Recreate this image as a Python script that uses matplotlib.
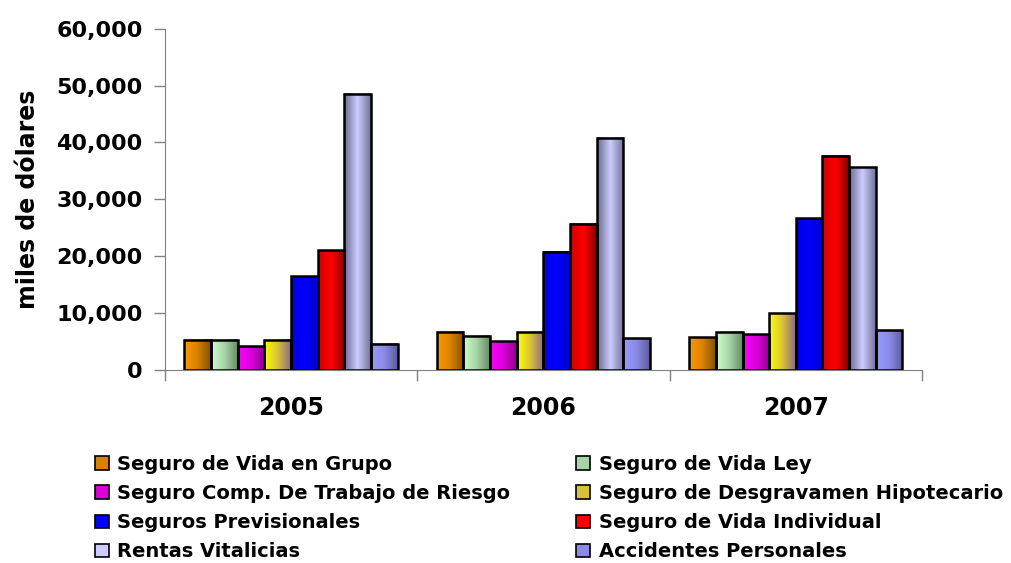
import numpy as np
import matplotlib
matplotlib.use('Agg')
import matplotlib.pyplot as plt
from matplotlib.colors import to_rgb
from matplotlib.patches import Patch
from matplotlib.ticker import FuncFormatter, FixedLocator

# datos (miles de dólares)
years = ['2005', '2006', '2007']
series = ['Seguro de Vida en Grupo', 'Seguro de Vida Ley',
          'Seguro Comp. De Trabajo de Riesgo', 'Seguro de Desgravamen Hipotecario',
          'Seguros Previsionales', 'Seguro de Vida Individual',
          'Rentas Vitalicias', 'Accidentes Personales']
vida_grupo = [5300, 6700, 5700]
vida_ley = [5300, 6000, 6700]
comp_trabajo = [4200, 5000, 6300]
desgravamen = [5300, 6700, 10000]
previsionales = [16500, 20800, 26700]
vida_individual = [21100, 25700, 37700]
rentas = [48600, 40800, 35600]
accidentes = [4600, 5600, 7000]
values = [vida_grupo, vida_ley, comp_trabajo, desgravamen,
          previsionales, vida_individual, rentas, accidentes]

# degradados izquierda / centro / derecha
grads = [('#FF9900', '#D98200', '#7F5200'),
         ('#CCFFCC', '#A6D4A6', '#648C64'),
         ('#FF00FF', '#D900D9', '#8C008C'),
         ('#FFFF00', '#D9C23A', '#8A6A8A'),
         ('#0000E6', '#0000FF', '#0000C8'),
         ('#D00000', '#FF0000', '#800000'),
         ('#6A6A90', '#CCCCFF', '#72729A'),
         ('#9999FF', '#8A8AE6', '#5C5C99')]


def ramp(c):
    l, m, r = [np.array(to_rgb(x)) for x in c]
    t = np.linspace(0, 1, 64)[:, None]
    left = l + (m - l) * (t * 2)
    right = m + (r - m) * (t * 2 - 1)
    return np.where(t < 0.5, left, right)[None, :, :]


plt.rcParams['font.family'] = 'DejaVu Sans'
plt.rcParams['font.weight'] = 'bold'

fig = plt.figure(figsize=(10.11, 5.63), dpi=100)
ax = fig.add_axes([0.163, 0.343, 0.749, 0.606])

n = len(series)
w = 0.845 / n
x = np.arange(len(years))
for i, (vals, g) in enumerate(zip(values, grads)):
    bars = ax.bar(x + (i - (n - 1) / 2) * w, vals, w, facecolor='none',
                  edgecolor='black', lw=1.8, zorder=3)
    for b in bars:
        bx, by, bw, bh = b.get_x(), b.get_y(), b.get_width(), b.get_height()
        ax.imshow(ramp(g), extent=[bx, bx + bw, by, by + bh], aspect='auto',
                  interpolation='bilinear', zorder=2)

ax.set_xlim(-0.5, 2.5)
ax.set_ylim(0, 60000)
ax.set_aspect('auto')
ax.yaxis.set_major_locator(FixedLocator(np.arange(0, 60001, 10000)))
ax.yaxis.set_major_formatter(FuncFormatter(lambda v, p: '{:,.0f}'.format(v)))
ax.set_xticks(x)
ax.set_xticklabels(years, fontsize=17, fontweight='bold')
ax.set_xticks([-0.5, 0.5, 1.5, 2.5], minor=True)
ax.tick_params(axis='x', which='major', length=0, pad=19)
ax.tick_params(axis='x', which='minor', length=8, color='#808080', width=1)
ax.tick_params(axis='y', length=8, color='#808080', width=1, labelsize=16, pad=8)
for lab in ax.get_yticklabels():
    lab.set_fontweight('bold')
ax.set_ylabel('miles de dólares', fontsize=17, fontweight='bold', labelpad=12)
for s in ['top', 'right']:
    ax.spines[s].set_visible(False)
for s in ['left', 'bottom']:
    ax.spines[s].set_color('#808080')

handles = [Patch(facecolor=g[1], edgecolor='black', lw=1.2) for g in grads]
kw = dict(loc='upper left', frameon=False, ncol=1, borderpad=0, borderaxespad=0,
          handlelength=0.7, handleheight=0.7, handletextpad=0.45, labelspacing=0.52,
          prop={'size': 14, 'weight': 'bold'})
fig.legend(handles[0::2], series[0::2], bbox_to_anchor=(0.094, 0.192), **kw)
fig.legend(handles[1::2], series[1::2], bbox_to_anchor=(0.570, 0.192), **kw)

fig.savefig('out.png', dpi=100)
